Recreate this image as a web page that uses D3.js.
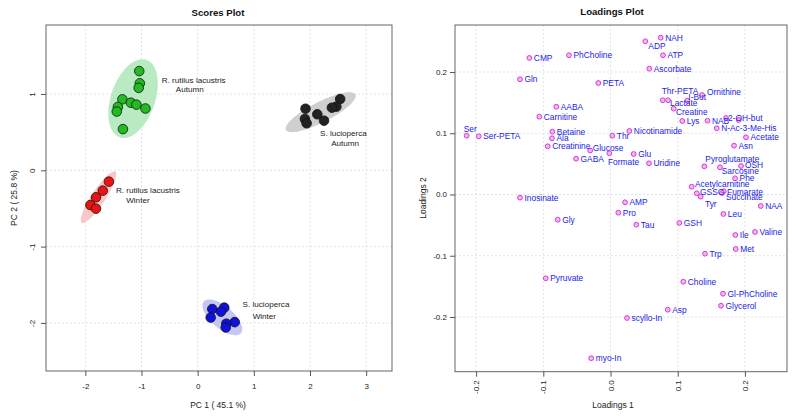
<!DOCTYPE html>
<html>
<head>
<meta charset="utf-8">
<script src="https://cdn.jsdelivr.net/npm/d3@7"></script>
<style>
  html, body { margin: 0; padding: 0; background: #fff; }
  svg { display: block; font-family: "Liberation Sans", Arial, Helvetica, sans-serif; }
</style>
</head>
<body>
<svg id="chart" width="796" height="416"></svg>
<script>
// ---------------- DATA ----------------
// Scores plot groups
const groupNames = ["R. rutilus lacustris Autumn", "R. rutilus lacustris Winter", "S. lucioperca Autumn", "S. lucioperca Winter"];
const groupLabelLines = [["R. rutilus lacustris", "Autumn"], ["R. rutilus lacustris", "Winter"], ["S. lucioperca", "Autumn"], ["S. lucioperca", "Winter"]];

const rrAutumnPC1 = [-1.04, -1.03, -1.05, -1.34, -1.19, -1.09, -0.93, -1.42, -1.44, -1.33];
const rrAutumnPC2 = [1.30, 1.14, 1.08, 0.93, 0.886, 0.86, 0.81, 0.83, 0.77, 0.54];
const rrWinterPC1 = [-1.58, -1.69, -1.81, -1.91, -1.81];
const rrWinterPC2 = [-0.149, -0.267, -0.354, -0.455, -0.503];
const slAutumnPC1 = [2.537, 2.47, 2.39, 1.92, 2.13, 2.25, 1.91, 1.94];
const slAutumnPC2 = [0.934, 0.834, 0.82, 0.807, 0.734, 0.65, 0.672, 0.616];
const slWinterPC1 = [0.26, 0.474, 0.415, 0.232, 0.66, 0.51, 0.50];
const slWinterPC2 = [-1.818, -1.80, -1.853, -1.93, -1.99, -2.01, -2.06];

// Confidence ellipses (centre, major half-axis vector, minor half-axis vector) in PC units
const ellipseCentre = [[-1.15, 0.94], [-1.765, -0.353], [2.19, 0.761], [0.44, -1.927]];
const ellipseMajor = [[0.237, 0.508], [0.298, 0.334], [0.619, 0.233], [0.33, -0.207]];
const ellipseMinor = [[0.371, -0.093], [0.105, -0.050], [0.083, -0.119], [-0.127, -0.110]];

// Group label anchors (PC units), one per text line
const labelLine1 = [[-0.071, 1.183], [-0.886, -0.262], [2.595, 0.485], [1.217, -1.765]];
const labelLine2 = [[-0.141, 1.059], [-1.064, -0.393], [2.626, 0.349], [1.187, -1.910]];

const scoresXTicks = [-2, -1, 0, 1, 2, 3];
const scoresYTicks = [-2, -1, 0, 1];

// Loadings plot
const metabolites = ["CMP","PhCholine","Gln","AABA","Carnitine","Ser","Ser-PETA","Betaine","Ala","Creatinine",
  "Glucose","GABA","Inosinate","Gly","Pyruvate","myo-In","NAH","ADP","ATP","Ascorbate",
  "PETA","Thr-PETA","Lactate","I-But","Ornithine","Creatine","Lys","NAB","2-OH-but","",
  "N-Ac-3-Me-His","Acetate","Asn","Nicotinamide","Thr","Formate","Glu","Uridine","Pyroglutamate","Sarcosine",
  "OSH","Phe","Acetylcarnitine","GSSG","Tyr","Fumarate","Succinate","NAA","Leu","AMP",
  "Pro","Tau","GSH","Ile","Valine","Met","Trp","Choline","Gl-PhCholine","Glycerol",
  "Asp","scyllo-In"];
const loadings1 = [-0.1208,-0.0618,-0.1347,-0.0807,-0.1060,-0.2140,-0.1961,-0.0866,-0.0871,-0.0935,
  -0.0302,-0.0513,-0.1347,-0.0786,-0.0964,-0.0287,0.0747,0.0518,0.0781,0.0577,
  -0.0182,0.0777,0.0856,0.1143,0.1362,0.0940,0.1068,0.1443,0.1719,0.1908,
  0.1580,0.2016,0.1838,0.0280,0.0027,-0.0018,0.0345,0.0573,0.1396,0.1629,
  0.1942,0.1853,0.1208,0.1283,0.1342,0.1685,0.1659,0.2235,0.1679,0.0216,
  0.0116,0.0384,0.1024,0.1857,0.2150,0.1863,0.1406,0.1083,0.1674,0.1644,
  0.0851,0.0246];
const loadings2 = [0.2229,0.2273,0.1881,0.1433,0.1270,0.0960,0.0950,0.1025,0.0918,0.0787,
  0.0718,0.0584,-0.0052,-0.0411,-0.1368,-0.2673,0.2560,0.2501,0.2273,0.2054,
  0.1820,0.1538,0.1538,0.1531,0.1624,0.1401,0.1200,0.1205,0.1249,0.1216,
  0.1081,0.0934,0.0797,0.1037,0.0960,0.0673,0.0661,0.0509,0.0460,0.0444,
  0.0465,0.0264,0.0127,0.0020,-0.0036,0.0052,0.0024,-0.0188,-0.0318,-0.0127,
  -0.0297,-0.0493,-0.0465,-0.0661,-0.0612,-0.0890,-0.0967,-0.1424,-0.1620,-0.1816,
  -0.1881,-0.2016];
const loadingTicks = [-0.2, -0.1, 0.0, 0.1, 0.2];

// ---------------- STYLE / LAYOUT ----------------
const pointFill = ["#22bb22", "#ee1111", "#222222", "#1111dd"];
const ellipseFill = ["#b8ebc2", "#f8c8c8", "#cfcfcf", "#c4c6f4"];
// label offsets (px) for loadings labels that are not placed plainly to the right
const labelOffset = {
  "Ser": [-3, -7], "ADP": [3, 5], "Thr-PETA": [-1, -9], "Lactate": [2, 2.4], "I-But": [1, -3.5],
  "Ornithine": [5, -3], "Creatine": [2.3, 3.6], "2-OH-but": [2, 0], "Formate": [-1.3, 8.4],
  "Glucose": [2.5, -2.8], "Pyroglutamate": [1, -7], "Sarcosine": [1.7, 3.4], "OSH": [4, -1.3],
  "Acetylcarnitine": [3.3, -2.7], "GSSG": [3.3, -1.6], "Tyr": [4.3, 7.3], "Fumarate": [3.3, 0.4],
  "Succinate": [4, 4.3]
};

const svg = d3.select("#chart");
const gridColor = "#dcdcdc";
const tickFont = 8;
const hyphenFmt = fmt => (d => fmt(d).replace("\u2212", "-"));

function drawFrame(x, y, box, xTicks, yTicks) {
  const g = svg.append("g");
  g.selectAll(".gx").data(xTicks).enter().append("line")
    .attr("x1", d => x(d)).attr("x2", d => x(d)).attr("y1", box.top).attr("y2", box.bottom)
    .attr("stroke", gridColor).attr("stroke-width", 0.8).attr("stroke-dasharray", "2,2");
  g.selectAll(".gy").data(yTicks).enter().append("line")
    .attr("y1", d => y(d)).attr("y2", d => y(d)).attr("x1", box.left).attr("x2", box.right)
    .attr("stroke", gridColor).attr("stroke-width", 0.8).attr("stroke-dasharray", "2,2");
  return g;
}

// ---------------- SCORES PLOT ----------------
const sBox = {left: 46, right: 392, top: 25, bottom: 371};
const sx = d3.scaleLinear().domain([-2.70, 3.46]).range([sBox.left, sBox.right]);
const sy = d3.scaleLinear().domain([-2.63, 1.904]).range([sBox.bottom, sBox.top]);
drawFrame(sx, sy, sBox, scoresXTicks, scoresYTicks);

const groupsPC1 = [rrAutumnPC1, rrWinterPC1, slAutumnPC1, slWinterPC1];
const groupsPC2 = [rrAutumnPC2, rrWinterPC2, slAutumnPC2, slWinterPC2];

groupNames.forEach((name, gi) => {
  const c = ellipseCentre[gi], u = ellipseMajor[gi], v = ellipseMinor[gi];
  const pts = d3.range(0, 360, 4).map(deg => {
    const t = deg * Math.PI / 180;
    return [sx(c[0] + u[0] * Math.cos(t) + v[0] * Math.sin(t)), sy(c[1] + u[1] * Math.cos(t) + v[1] * Math.sin(t))];
  });
  svg.append("path").attr("d", d3.line().curve(d3.curveCardinalClosed)(pts))
    .attr("fill", ellipseFill[gi]).attr("stroke", "none");
});
groupNames.forEach((name, gi) => {
  svg.append("g").selectAll("circle").data(groupsPC1[gi].map((v, i) => [v, groupsPC2[gi][i]]))
    .enter().append("circle")
    .attr("cx", d => sx(d[0])).attr("cy", d => sy(d[1])).attr("r", 4.8)
    .attr("fill", pointFill[gi]).attr("stroke", "#111").attr("stroke-width", 0.8);
});
groupLabelLines.forEach((lines, gi) => {
  [labelLine1[gi], labelLine2[gi]].forEach((p, li) => {
    svg.append("text").attr("x", sx(p[0])).attr("y", sy(p[1]))
      .attr("text-anchor", "middle").attr("dominant-baseline", "central")
      .attr("font-size", 8.1).attr("fill", "#222").text(lines[li]);
  });
});
svg.append("rect").attr("x", sBox.left).attr("y", sBox.top)
  .attr("width", sBox.right - sBox.left).attr("height", sBox.bottom - sBox.top)
  .attr("fill", "none").attr("stroke", "#666").attr("stroke-width", 1);
const sxAxis = svg.append("g").attr("transform", `translate(0,${sBox.bottom})`)
  .call(d3.axisBottom(sx).tickValues(scoresXTicks).tickSize(5).tickFormat(hyphenFmt(d3.format("d"))));
sxAxis.select(".domain").remove();
sxAxis.selectAll("text").attr("y", 15.7).attr("dy", null).attr("dominant-baseline", "central")
  .attr("font-size", tickFont).attr("fill", "#222").attr("font-family", "Liberation Sans, Arial, sans-serif");
const syAxis = svg.append("g").attr("transform", `translate(${sBox.left},0)`)
  .call(d3.axisLeft(sy).tickValues(scoresYTicks).tickSize(5).tickFormat(hyphenFmt(d3.format("d"))));
syAxis.select(".domain").remove();
syAxis.selectAll("text").attr("x", 0).attr("dy", null).attr("text-anchor", "middle")
  .attr("dominant-baseline", "central").attr("transform", "translate(-14,0) rotate(-90)")
  .attr("font-size", tickFont).attr("fill", "#222").attr("font-family", "Liberation Sans, Arial, sans-serif");

svg.append("text").attr("x", 218).attr("y", 12).attr("text-anchor", "middle").attr("dominant-baseline", "central")
  .attr("font-size", 9.6).attr("font-weight", "bold").attr("fill", "#111").text("Scores Plot");
svg.append("text").attr("x", 218).attr("y", 405).attr("text-anchor", "middle").attr("dominant-baseline", "central")
  .attr("font-size", 8.5).attr("fill", "#222").text("PC 1 ( 45.1 %)");
svg.append("text").attr("transform", "translate(14,198) rotate(-90)").attr("text-anchor", "middle")
  .attr("dominant-baseline", "central").attr("font-size", 8.5).attr("fill", "#222").text("PC 2 ( 25.8 %)");

// ---------------- LOADINGS PLOT ----------------
const lBox = {left: 455, right: 787, top: 25, bottom: 371.7};
const lx = d3.scaleLinear().domain([-0.2314, 0.2626]).range([lBox.left, lBox.right]);
const ly = d3.scaleLinear().domain([-0.2893, 0.2767]).range([lBox.bottom, lBox.top]);
drawFrame(lx, ly, lBox, loadingTicks, loadingTicks);

const loadData = metabolites.map((m, i) => ({name: m, l1: loadings1[i], l2: loadings2[i]}));
svg.append("g").selectAll("circle").data(loadData).enter().append("circle")
  .attr("cx", d => lx(d.l1)).attr("cy", d => ly(d.l2)).attr("r", 2.4)
  .attr("fill", "#f4b4f4").attr("stroke", "#d63cd6").attr("stroke-width", 1);
svg.append("g").selectAll("text").data(loadData.filter(d => d.name !== "")).enter().append("text")
  .attr("x", d => lx(d.l1) + (labelOffset[d.name] ? labelOffset[d.name][0] : 4.5))
  .attr("y", d => ly(d.l2) + (labelOffset[d.name] ? labelOffset[d.name][1] : 0))
  .attr("dominant-baseline", "central").attr("font-size", 8.4).attr("fill", "#2222e6")
  .text(d => d.name);

svg.append("rect").attr("x", lBox.left).attr("y", lBox.top)
  .attr("width", lBox.right - lBox.left).attr("height", lBox.bottom - lBox.top)
  .attr("fill", "none").attr("stroke", "#666").attr("stroke-width", 1);
const lxAxis = svg.append("g").attr("transform", `translate(0,${lBox.bottom})`)
  .call(d3.axisBottom(lx).tickValues(loadingTicks).tickSize(5).tickFormat(hyphenFmt(d3.format(".1f"))));
lxAxis.select(".domain").remove();
lxAxis.selectAll("text").attr("x", 0).attr("y", 0).attr("dy", null).attr("text-anchor", "end")
  .attr("dominant-baseline", "central").attr("transform", "translate(0,8.5) rotate(-90)")
  .attr("font-size", tickFont).attr("fill", "#222").attr("font-family", "Liberation Sans, Arial, sans-serif");
const lyAxis = svg.append("g").attr("transform", `translate(${lBox.left},0)`)
  .call(d3.axisLeft(ly).tickValues(loadingTicks).tickSize(5).tickFormat(hyphenFmt(d3.format(".1f"))));
lyAxis.select(".domain").remove();
lyAxis.selectAll("text").attr("dy", null).attr("dominant-baseline", "central")
  .attr("font-size", tickFont).attr("fill", "#222").attr("font-family", "Liberation Sans, Arial, sans-serif");
svg.selectAll(".tick line").attr("stroke", "#555");

svg.append("text").attr("x", 612).attr("y", 11).attr("text-anchor", "middle").attr("dominant-baseline", "central")
  .attr("font-size", 9.6).attr("font-weight", "bold").attr("fill", "#111").text("Loadings Plot");
svg.append("text").attr("x", 613).attr("y", 405).attr("text-anchor", "middle").attr("dominant-baseline", "central")
  .attr("font-size", 8.5).attr("fill", "#222").text("Loadings 1");
svg.append("text").attr("transform", "translate(423,198) rotate(-90)").attr("text-anchor", "middle")
  .attr("dominant-baseline", "central").attr("font-size", 8.5).attr("fill", "#222").text("Loadings 2");
</script>
</body>
</html>
